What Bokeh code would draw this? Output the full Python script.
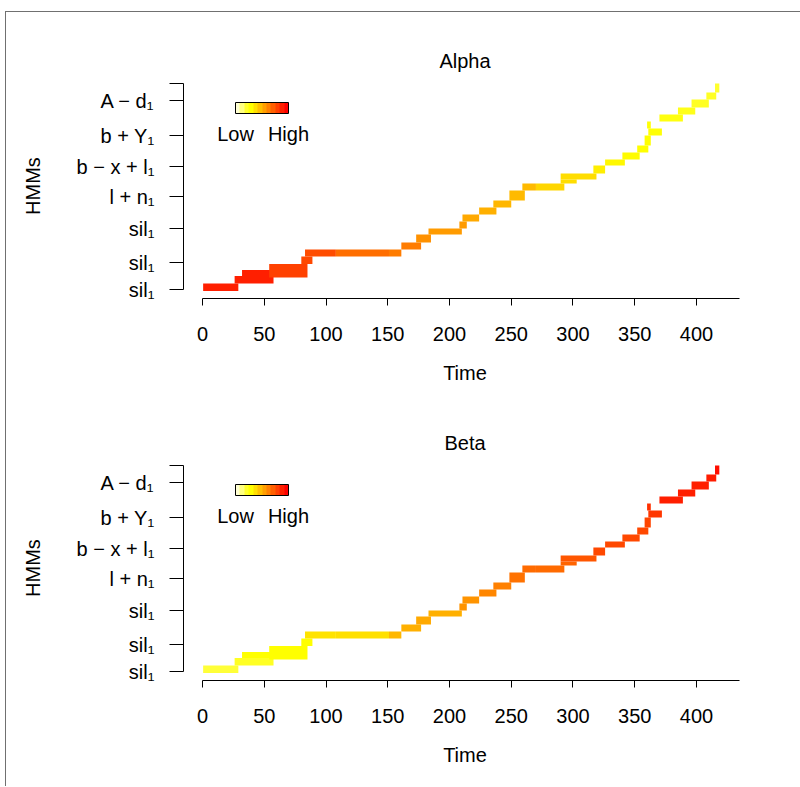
import colorsys
from bokeh.plotting import figure
from bokeh.models import ColumnDataSource, FixedTicker, LinearColorMapper, ColorBar
from bokeh.layouts import column
from bokeh.transform import linear_cmap
from bokeh.embed import file_html
from bokeh.resources import INLINE

# ---- data: time segments of the HMM state path ----
t_start = [0.5, 26, 32, 54, 80, 83, 108, 151, 161, 173, 183, 208, 210.5, 224, 235.5,
           248.5, 259, 270, 290, 290, 316.5, 326, 340, 352, 358, 361, 360, 370, 385,
           396, 408, 415]
t_end = [29, 57.5, 57.5, 85, 89, 108, 151, 161, 177, 185, 210, 214, 224, 238, 250,
         261, 270, 293, 303, 319, 326, 342, 354, 361, 363, 372, 363, 389, 399,
         410, 416, 418.5]
state_low = [-0.5, 2, 4.5, 4, 8.5, 11, 11, 11, 13.3, 15.7, 18.3, 20.3, 22.7, 25, 27.3,
             29.7, 33, 33, 35.3, 36.7, 38.7, 41.3, 43.3, 45.7, 48, 51.3, 53.7, 56, 58.3,
             60.7, 63.3, 65.7]
state_high = [2, 4.5, 6.5, 8.5, 11, 13.3, 13.3, 13.3, 15.7, 18.3, 20.3, 22.7, 25, 27.3, 29.7,
              33, 35.3, 35.3, 36.7, 38.7, 41.3, 43.3, 45.7, 48, 51.3, 53.7, 56, 58.3, 60.7,
              63.3, 65.7, 68.7]
alpha_level = [0.90, 0.90, 0.90, 0.80, 0.78, 0.77, 0.67, 0.63, 0.63, 0.58, 0.54, 0.54, 0.50,
               0.48, 0.46, 0.45, 0.45, 0.37, 0.35, 0.35, 0.30, 0.27, 0.26, 0.25, 0.25, 0.24,
               0.24, 0.23, 0.22, 0.21, 0.21, 0.20]
beta_level = [0.19, 0.21, 0.25, 0.25, 0.25, 0.33, 0.34, 0.46, 0.48, 0.50, 0.48, 0.56, 0.57,
              0.60, 0.62, 0.66, 0.68, 0.68, 0.70, 0.74, 0.78, 0.78, 0.78, 0.78, 0.79, 0.83,
              0.85, 0.90, 0.90, 0.90, 0.91, 0.95]

state_ticks = [0, 9, 20.3, 31, 41, 51.3, 63, 68.7]
state_labels = ["sil\u2081", "sil\u2081", "sil\u2081", "l + n\u2081", "b \u2212 x + l\u2081",
                "b + Y\u2081", "A \u2212 d\u2081", ""]
time_ticks = [0, 50, 100, 150, 200, 250, 300, 350, 400]


def heat_colors(n):
    j = n // 4
    i = n - j
    cols = []
    for k in range(i):
        h = (1 / 6) * k / (i - 1) if i > 1 else 0
        cols.append(colorsys.hsv_to_rgb(h, 1, 1))
    for k in range(j):
        s = (1 - 1 / (2 * j)) - k * (1 - 1 / j) / (j - 1) if j > 1 else 0.5
        cols.append(colorsys.hsv_to_rgb(1 / 6, s, 1))
    return ["#%02X%02X%02X" % tuple(int(round(c * 255)) for c in rgb) for rgb in cols]


fine_pal = heat_colors(100)[::-1]
legend_pal = heat_colors(12)[::-1]
FONT = "Liberation Sans"
FS = "20px"


def make_panel(title, levels, height):
    src = ColumnDataSource(dict(t0=t_start, t1=t_end, y0=state_low, y1=state_high, lev=levels))
    p = figure(width=795, height=height, x_range=(-15.4, 440.5), y_range=(-3, 72),
               output_backend="svg", toolbar_location=None,
               min_border_left=177, min_border_right=55, min_border_top=61,
               min_border_bottom=height - 286)
    p.quad(left="t0", right="t1", bottom="y0", top="y1", source=src,
           fill_color=linear_cmap("lev", fine_pal, 0, 1), line_color=None)
    p.outline_line_color = None
    p.xgrid.visible = False
    p.ygrid.visible = False
    p.background_fill_color = "white"

    p.title.text = title
    p.title.align = "center"
    p.title.text_font = FONT
    p.title.text_font_size = FS
    p.title.text_font_style = "normal"
    p.title.text_color = "black"
    p.title.standoff = 4

    xa = p.xaxis[0]
    xa.ticker = FixedTicker(ticks=time_ticks)
    xa.bounds = (0, 435)
    xa.major_tick_out = 7
    xa.major_tick_in = 0
    xa.minor_tick_line_color = None
    xa.major_label_standoff = 21
    xa.axis_label = "Time"
    xa.axis_label_standoff = 18
    ya = p.yaxis[0]
    ya.ticker = FixedTicker(ticks=state_ticks)
    ya.major_label_overrides = dict(zip(state_ticks, state_labels))
    ya.bounds = (0, 68.7)
    ya.major_tick_out = 14
    ya.major_tick_in = 0
    ya.minor_tick_line_color = None
    ya.major_label_standoff = 15
    ya.axis_label = "HMMs"
    ya.axis_label_standoff = 30
    for ax in (xa, ya):
        ax.axis_line_color = "black"
        ax.major_tick_line_color = "black"
        ax.major_label_text_font = FONT
        ax.major_label_text_font_size = FS
        ax.major_label_text_color = "black"
        ax.axis_label_text_font = FONT
        ax.axis_label_text_font_size = FS
        ax.axis_label_text_font_style = "normal"
        ax.axis_label_text_color = "black"

    mapper = LinearColorMapper(palette=legend_pal, low=0, high=1)
    cb = ColorBar(color_mapper=mapper, orientation="horizontal", width=53, height=11,
                  location=(52, 151), padding=0, margin=0,
                  ticker=FixedTicker(ticks=[0, 1]),
                  major_label_overrides={0: "Low", 1: "High"},
                  major_tick_line_color=None, bar_line_color="black",
                  background_fill_alpha=0, border_line_color=None,
                  major_label_text_font=FONT, major_label_text_font_size=FS,
                  major_label_text_color="black",
                  label_standoff=9)
    p.add_layout(cb)
    return p


p1 = make_panel("Alpha", alpha_level, 382)
p2 = make_panel("Beta", beta_level, 392)

layout = column(p1, p2, margin=(11, 0, 0, 5),
                styles={"border-top": "1px solid #707070", "border-left": "1px solid #707070"})

open("out.html", "w").write(file_html(layout, INLINE))
